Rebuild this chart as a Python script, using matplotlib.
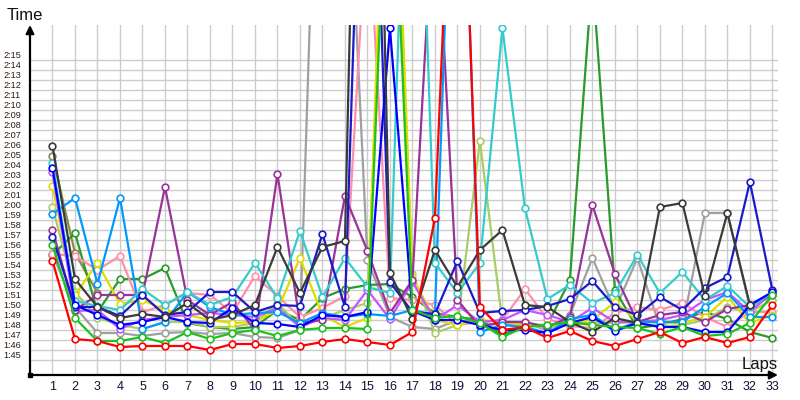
import numpy as np
import matplotlib
matplotlib.use("Agg")
from matplotlib import pyplot as plt

# lap times in seconds (values above the top of the chart are pit laps)
laps = list(range(1, 34))
nan = np.nan

red = [114.4, 106.6, 106.4, 105.8, 105.9, 105.9, 105.9, 105.5, 106.1, 106.1, 105.7, 105.9, 106.3, 106.6, 106.3, 106.0, 107.3,
       118.7, 172.0, 109.8, 107.5, 107.8, 106.7, 107.4, 106.4, 105.9, 106.6, 107.3, 106.2, 106.8, 106.2, 106.8, 110.0]
lime = [116.0, 108.7, 106.4, 106.4, 106.8, 106.2, 107.3, 106.6, 107.2, 107.5, 106.9, 107.5, 107.7, 107.7, 107.6, 163.0, 109.5,
        108.7, 108.9, 108.2, 106.8, 107.8, 108.0, 108.3, 108.0, 107.8, 107.7, 107.1, 107.8, 106.9, 107.1, 108.2, 111.0]
dkgreen = [115.0, 117.2, 109.3, 112.6, 112.6, 113.7, 108.2, 107.8, 107.6, 107.8, 109.5, 108.5, 110.7, 111.6, 112.0, 112.1, 110.8,
           109.2, 108.8, 108.5, 107.0, 108.0, 108.0, 112.5, 143.0, 111.5, 107.7, 108.0, 108.6, 109.3, 108.6, 107.3, 106.7]
gray = [115.1, 109.8, 107.2, 107.2, 106.9, 107.2, 107.3, 107.1, 107.2, 106.8, 106.7, 107.5, 178.0, 162.0, 114.5, 108.8, 107.8,
        107.6, 108.5, 108.2, 108.0, 108.2, 107.5, 109.0, 114.7, 109.5, 114.7, 107.8, 107.8, 119.2, 119.2, 109.8, 111.0]
dkgray = [125.9, 112.6, 109.8, 108.7, 109.1, 108.8, 110.2, 108.5, 109.0, 110.0, 115.8, 111.2, 115.8, 116.4, 215.0, 113.2, 108.6,
          115.5, 111.8, 115.5, 117.5, 110.0, 109.8, 108.3, 107.3, 108.7, 108.2, 119.8, 120.2, 110.9, 119.2, 110.0, nan]
pink = [115.1, 114.9, 113.5, 114.9, 109.3, 110.0, 111.2, 111.0, 109.2, 112.9, 110.9, 108.8, 109.7, 110.9, 150.0, 110.7, 110.5,
        110.0, 108.0, 108.3, 108.5, 111.6, 108.6, 107.9, 107.7, 109.2, 109.8, 109.5, 110.2, 108.8, 107.8, 109.3, 109.3]
navy = [116.8, 109.8, 109.8, 108.9, 111.0, 109.0, 109.3, 111.3, 111.3, 109.3, 110.0, 109.9, 117.1, 109.8, 180.0, 112.3, 109.3,
        109.1, 114.4, 109.2, 109.4, 109.5, 109.9, 110.6, 112.4, 109.8, 109.0, 110.8, 109.5, 111.7, 112.8, 122.3, 111.5]
blue = [123.7, 110.0, 109.0, 108.0, 108.3, 108.8, 108.3, 108.2, 109.7, 108.2, 108.1, 107.8, 109.0, 108.8, 109.3, 137.7, 109.4,
        108.5, 108.5, 108.0, 107.5, 107.5, 107.2, 108.2, 108.8, 107.4, 108.2, 107.8, 107.8, 107.3, 107.3, 110.0, 111.3]
ltblue = [119.1, 120.7, 112.1, 120.7, 107.6, 108.3, 111.3, 109.8, 109.0, 109.2, 109.3, 108.2, 109.2, 108.8, 109.1, 108.9, 109.5,
          109.0, 175.0, 107.3, 108.0, 107.8, 107.2, 108.6, 109.0, 107.5, 108.3, 108.3, 108.3, 109.8, 111.2, 108.8, 108.8]
cyan = [124.2, 110.4, 109.9, 109.5, 111.6, 110.0, 111.3, 110.0, 110.8, 114.2, 110.7, 117.4, 110.8, 114.7, 111.8, 111.2, 180.0,
        114.2, 111.2, 114.2, 137.7, 119.7, 110.6, 112.0, 110.2, 111.2, 115.0, 111.2, 113.3, 110.5, 111.9, 109.8, 111.2]
purple = [117.5, 109.5, 111.0, 111.0, 111.0, 121.8, 110.5, 109.0, 110.3, 107.5, 123.1, 108.2, 108.5, 120.9, 115.4, 109.2, 112.5,
          153.0, 110.5, 107.8, 108.3, 108.3, 107.8, 108.8, 120.0, 113.1, 108.3, 109.0, 109.3, 108.3, 109.6, 110.0, 111.0]
violet = [123.3, 109.4, 109.5, 107.6, 108.5, 108.8, 109.0, 109.2, 109.0, 108.8, 109.7, 107.8, 108.7, 108.5, 111.5, 108.6, 112.3,
          108.5, 110.0, 108.3, 108.5, 109.5, 109.0, 108.3, 109.7, 108.3, 108.3, 108.5, 109.0, 110.5, 111.3, 109.3, 111.2]
yellow = [121.9, 111.0, 114.2, 110.1, 110.5, 109.5, 109.0, 108.5, 108.2, 108.3, 109.5, 114.7, 109.0, 107.8, 108.7, 172.0, 112.8,
          108.5, 108.0, 108.5, 108.3, 108.0, 108.0, 108.3, 108.5, 110.3, 108.4, 108.2, 108.2, 108.8, 110.8, 108.2, 109.0]
ygreen = [119.8, 111.3, 108.7, 108.0, 107.6, 108.3, 108.3, 107.8, 107.8, 108.2, 110.2, 107.8, 108.7, 109.5, 110.2, 165.0, 113.1,
          107.2, 108.0, 126.4, 108.2, 108.0, 107.8, 108.0, 108.3, 108.2, 108.3, 107.8, 108.0, 108.5, 109.8, 109.3, 110.5]
olive = [124.9, 115.2, 111.2] + [nan] * 30

series = [
    (olive, '#8a8a4a'),
    (gray, '#a0a0a0'),
    (dkgreen, '#2a9a2a'),
    (pink, '#ff8fa8'),
    (ygreen, '#aacc66'),
    (yellow, '#dddd00'),
    (violet, '#c455ff'),
    (purple, '#993399'),
    (ltblue, '#0099ff'),
    (cyan, '#33cccc'),
    (navy, '#1a1acc'),
    (blue, '#0000ff'),
    (dkgray, '#3a3a3a'),
    (lime, '#1fc01f'),
    (red, '#ff0000'),
]

ytick_vals = list(range(105, 136))
ytick_labels = ['%d:%02d' % (v // 60, v % 60) for v in ytick_vals]

fig = plt.figure(figsize=(8, 4), dpi=100)
ax = fig.add_axes([30 / 800, 25 / 400, 748 / 800, 350 / 400])

for vals, col in series:
    ax.plot(laps, vals, color=col, lw=1.6, marker='o', ms=4.8,
            mfc='white', mec=col, mew=1.2, zorder=3)

ax.set_xlim(0, 33.25)
ax.set_ylim(103, 138)
ax.set_xticks(laps)
ax.set_xticklabels([str(l) for l in laps], fontsize=9, family='Liberation Sans', color='#10103a')
ax.set_yticks(ytick_vals)
ax.set_yticklabels(ytick_labels, fontsize=6.6, family='Liberation Sans', color='#2a1a10')
ax.set_yticks(np.arange(104.5, 135, 1), minor=True)
ax.tick_params(axis='both', which='both', length=0)
ax.tick_params(axis='y', pad=6.5)
ax.tick_params(axis='x', pad=4)
ax.set_axisbelow(True)
ax.xaxis.grid(True, which='major', color='#cccccc', lw=1)
ax.yaxis.grid(True, which='minor', color='#cccccc', lw=1)
ax.yaxis.grid(False, which='major')
for s in ax.spines.values():
    s.set_visible(False)

# axis arrows
ax.annotate('', xy=(0, 1), xytext=(0, 0), xycoords='axes fraction',
            arrowprops=dict(arrowstyle='-|>', color='black', lw=1.6, mutation_scale=12,
                            shrinkA=0, shrinkB=0), annotation_clip=False)
ax.annotate('', xy=(1, 0), xytext=(0, 0), xycoords='axes fraction',
            arrowprops=dict(arrowstyle='-|>', color='black', lw=1.6, mutation_scale=12,
                            shrinkA=0, shrinkB=0), annotation_clip=False)
ax.plot([0], [103], 's', color='black', ms=3, clip_on=False, zorder=5)

fig.text(7 / 800, 1 - 15 / 400, 'Time', fontsize=12, family='Liberation Sans', va='center', color='#111111')
fig.text(742 / 800, 1 - 365 / 400, 'Laps', fontsize=12, family='Liberation Sans', va='center', color='#111111')

fig.savefig('out.png', dpi=100)
